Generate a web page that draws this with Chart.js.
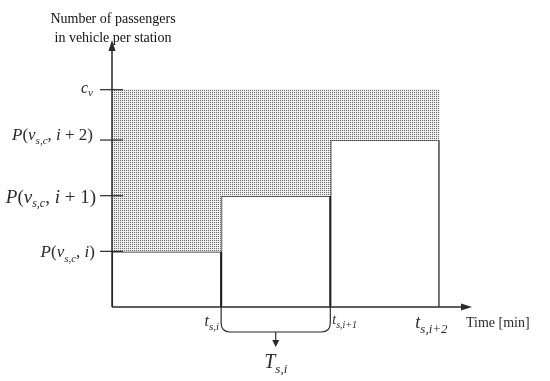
<!DOCTYPE html>
<html>
<head>
<meta charset="utf-8">
<script src="https://cdn.jsdelivr.net/npm/chart.js@4.4.0/dist/chart.umd.min.js"></script>
<style>
  html, body { margin: 0; padding: 0; background: #fff; }
  #wrap { width: 550px; height: 381px; }
</style>
</head>
<body>
<div id="wrap"><canvas id="chart"></canvas></div>
<script>
// station intervals (time axis units) and passenger levels (arbitrary units)
const stationStart = [0, 1, 2];
const stationEnd = [1, 2, 3];
const passengers = [2.1, 4.2, 6.3];
const capacity = 8.2;
const timeTicks = [1, 2, 3];
const timeTickLabels = [['t', 's,i'], ['t', 's,i+1'], ['t', 's,i+2']];

const SERIF = '"Liberation Serif", "DejaVu Serif", serif';
const INK = '#2b2b2b';

// dotted fill for the unused capacity
const patCanvas = document.createElement('canvas');
patCanvas.width = 2;
patCanvas.height = 2;
const pctx = patCanvas.getContext('2d');
pctx.fillStyle = '#e6e6e6';
pctx.fillRect(0, 0, 2, 2);
pctx.fillStyle = '#f8f8f8';
pctx.fillRect(1, 1, 1, 1);
pctx.fillStyle = '#707070';
pctx.fillRect(0, 0, 1, 1);
const dotPattern = pctx.createPattern(patCanvas, 'repeat');

const centers = stationStart.map((s, i) => (s + stationEnd[i]) / 2);

// draws a run of text pieces: [text, fontSize, italic, dy]
function drawRun(ctx, parts, x, y, align) {
    let total = 0;
    parts.forEach(p => {
        ctx.font = (p[2] ? 'italic ' : '') + p[1] + 'px ' + SERIF;
        total += ctx.measureText(p[0]).width;
    });
    let cx = x;
    if (align === 'right') cx = x - total;
    if (align === 'center') cx = x - total / 2;
    ctx.textAlign = 'left';
    ctx.textBaseline = 'alphabetic';
    parts.forEach(p => {
        ctx.font = (p[2] ? 'italic ' : '') + p[1] + 'px ' + SERIF;
        ctx.fillText(p[0], cx, y + (p[3] || 0));
        cx += ctx.measureText(p[0]).width;
    });
}

function pLabel(suffix, size) {
    const sub = Math.round(size * 0.65);
    const parts = [['P', size, true], ['(', size, false], ['v', size, true], ['s,c', sub, true, size * 0.25], [', ', size, false], ['i', size, true]];
    if (suffix) parts.push([' + ' + suffix, size, false]);
    parts.push([')', size, false]);
    return parts;
}

const diagramPlugin = {
    id: 'diagram',
    afterDraw(chart) {
        const ctx = chart.ctx;
        const xs = chart.scales.x;
        const ys = chart.scales.y;
        const area = chart.chartArea;
        const x0 = xs.getPixelForValue(0);
        const y0 = ys.getPixelForValue(0);
        ctx.save();
        ctx.strokeStyle = INK;
        ctx.fillStyle = INK;
        ctx.lineWidth = 1.5;

        // axes with arrows
        ctx.beginPath();
        ctx.moveTo(x0, y0);
        ctx.lineTo(x0, area.top + 4);
        ctx.moveTo(x0, y0);
        ctx.lineTo(area.right - 4, y0);
        ctx.stroke();
        ctx.beginPath();
        ctx.moveTo(x0, area.top - 2);
        ctx.lineTo(x0 - 3.5, area.top + 9);
        ctx.lineTo(x0 + 3.5, area.top + 9);
        ctx.closePath();
        ctx.fill();
        ctx.beginPath();
        ctx.moveTo(area.right + 2, y0);
        ctx.lineTo(area.right - 9, y0 - 3.5);
        ctx.lineTo(area.right - 9, y0 + 3.5);
        ctx.closePath();
        ctx.fill();

        // y ticks
        ctx.lineWidth = 1.2;
        [capacity].concat(passengers).forEach(v => {
            const py = ys.getPixelForValue(v);
            ctx.beginPath();
            ctx.moveTo(x0 - 12, py);
            ctx.lineTo(x0 + 11, py);
            ctx.stroke();
        });

        // y labels
        const cy = ys.getPixelForValue(capacity);
        drawRun(ctx, [['c', 16, true], ['v', 11, true, 3]], x0 - 19, cy + 3, 'right');
        drawRun(ctx, pLabel('2', 17), x0 - 19, ys.getPixelForValue(passengers[2]), 'right');
        drawRun(ctx, pLabel('1', 19), x0 - 16, ys.getPixelForValue(passengers[1]) + 7, 'right');
        drawRun(ctx, pLabel('', 17), x0 - 17, ys.getPixelForValue(passengers[0]) + 6, 'right');

        // time tick labels
        const sizes = [16, 14, 18];
        const offsets = [[-2, 'right', 19], [2, 'left', 17], [-8, 'center', 21]];
        timeTicks.forEach((t, i) => {
            const px = xs.getPixelForValue(t);
            const s = sizes[i];
            const lab = timeTickLabels[i];
            drawRun(ctx, [[lab[0], s, true], [lab[1], Math.round(s * 0.7), true, s * 0.25]],
                px + offsets[i][0], y0 + offsets[i][2], offsets[i][1]);
        });
        ctx.font = '14px ' + SERIF;
        ctx.textAlign = 'left';
        ctx.textBaseline = 'middle';
        ctx.fillText('Time [min]', area.right - 4, y0 + 16);

        // bracket for the dwell interval
        const bx1 = xs.getPixelForValue(timeTicks[0]);
        const bx2 = xs.getPixelForValue(timeTicks[1]);
        const by = y0 + 25;
        const r = 9;
        ctx.lineWidth = 1.2;
        ctx.beginPath();
        ctx.moveTo(bx1, y0);
        ctx.lineTo(bx1, by - r);
        ctx.quadraticCurveTo(bx1, by, bx1 + r, by);
        ctx.lineTo(bx2 - r, by);
        ctx.quadraticCurveTo(bx2, by, bx2, by - r);
        ctx.lineTo(bx2, y0);
        ctx.stroke();
        const mx = (bx1 + bx2) / 2;
        ctx.beginPath();
        ctx.moveTo(mx, by);
        ctx.lineTo(mx, by + 10);
        ctx.stroke();
        ctx.beginPath();
        ctx.moveTo(mx, by + 15);
        ctx.lineTo(mx - 3.5, by + 8);
        ctx.lineTo(mx + 3.5, by + 8);
        ctx.closePath();
        ctx.fill();
        drawRun(ctx, [['T', 20, true], ['s,i', 13, true, 5]], mx, by + 36, 'center');

        // y axis title
        ctx.fillStyle = '#111';
        ctx.font = '14px ' + SERIF;
        ctx.textAlign = 'center';
        ctx.textBaseline = 'middle';
        ctx.fillText('Number of passengers', x0 + 1, 19);
        ctx.fillText('in vehicle per station', x0 + 1, 38);
        ctx.restore();
    }
};

new Chart(document.getElementById('chart'), {
    type: 'bar',
    data: {
        datasets: [
            {
                label: 'free capacity',
                data: centers.map((c, i) => ({ x: c, y: [passengers[i], capacity] })),
                backgroundColor: dotPattern,
                borderWidth: 0,
                grouped: false,
                barPercentage: 1,
                categoryPercentage: 1
            },
            {
                label: 'passengers',
                data: centers.map((c, i) => ({ x: c, y: passengers[i] })),
                backgroundColor: '#ffffff',
                borderColor: '#1e1e1e',
                borderWidth: 1.4,
                grouped: false,
                barPercentage: 1,
                categoryPercentage: 1
            }
        ]
    },
    options: {
        responsive: true,
        maintainAspectRatio: false,
        animation: false,
        layout: { padding: { left: 112, right: 80, top: 42, bottom: 74 } },
        scales: {
            x: {
                type: 'linear', min: 0, max: 3.28, display: false, offset: false,
                afterBuildTicks: s => { s.ticks = centers.map(v => ({ value: v })); }
            },
            y: { min: 0, max: 10, display: false }
        },
        plugins: {
            legend: { display: false },
            tooltip: { enabled: false }
        }
    },
    plugins: [diagramPlugin]
});
</script>
</body>
</html>
